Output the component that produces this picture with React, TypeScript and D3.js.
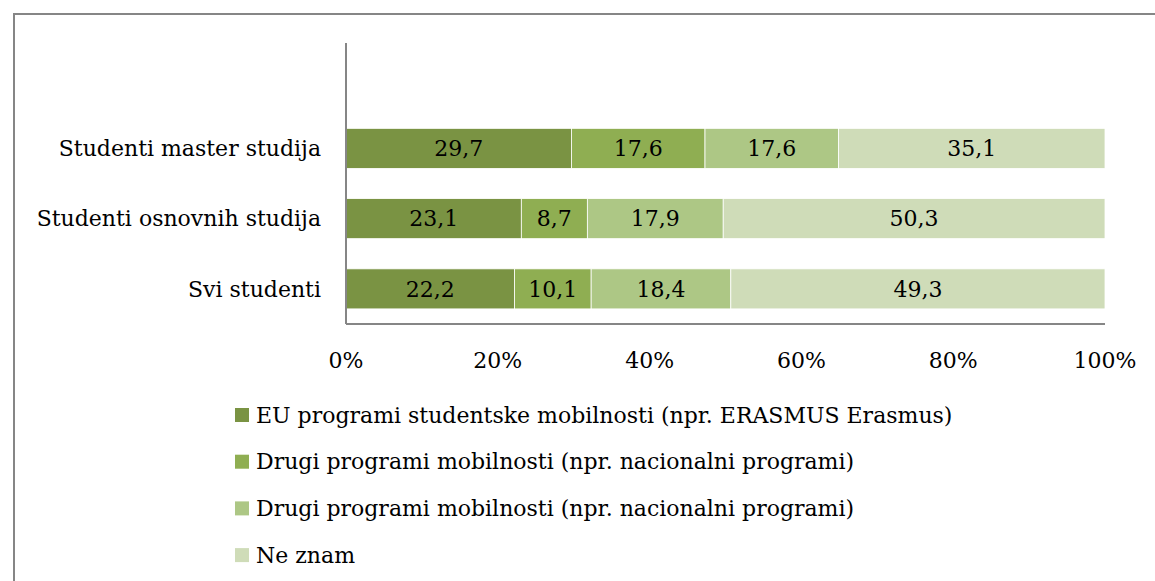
import * as d3 from 'd3';

const width = 1155;
const height = 581;

// categories, top to bottom; the first slot stays empty like the original
const categories = ['', 'Studenti master studija', 'Studenti osnovnih studija', 'Svi studenti'];
const seriesNames = [
  'EU programi studentske mobilnosti (npr. ERASMUS Erasmus)',
  'Drugi programi mobilnosti (npr. nacionalni programi)',
  'Drugi programi mobilnosti (npr. nacionalni programi)',
  'Ne znam',
];
const euValues = [29.7, 23.1, 22.2];
const drugiValues = [17.6, 8.7, 10.1];
const drugi2Values = [17.6, 17.9, 18.4];
const neZnamValues = [35.1, 50.3, 49.3];
const ticks = [0, 20, 40, 60, 80, 100];
const colors = ['#7a9343', '#8fae52', '#adc785', '#cfdcb8'];

const font = '"DejaVu Serif", serif';
const fontSize = 22;

const left = 346;
const right = 1105;
const top = 43;
const bottom = 324;

export default function App() {
  const rows = categories.slice(1).map((name, i) => ({
    name,
    values: [euValues[i], drugiValues[i], drugi2Values[i], neZnamValues[i]],
  }));
  const x = d3.scaleLinear([0, 100], [left, right]);
  const y = d3
    .scaleBand<string>()
    .domain(categories)
    .range([top, bottom])
    .paddingInner(0.43)
    .paddingOuter(0.215);
  const stack = d3.stack<number[]>().keys([0, 1, 2, 3] as any).value((d, k) => d[k as any]);
  const layers = stack(rows.map((r) => r.values));

  return (
    <svg
      width={width}
      height={height}
      style={{ position: 'absolute', left: 0, top: 0, background: '#fff' }}
      fontFamily={font}
    >
      <path d={`M14,${height + 5} V14 H${width + 5}`} fill="none" stroke="#868686" strokeWidth={2} />

      {layers.map((layer, si) =>
        layer.map((seg, ri) => {
          const cat = rows[ri].name;
          const x0 = x(seg[0]);
          const x1 = x(seg[1]);
          const yy = y(cat)!;
          return (
            <g key={`${si}-${ri}`}>
              <rect
                x={x0}
                y={yy}
                width={x1 - x0}
                height={y.bandwidth()}
                fill={colors[si]}
                stroke="#fff"
                strokeWidth={0.8}
              />
              <text
                x={(x0 + x1) / 2}
                y={yy + y.bandwidth() / 2}
                dy="0.35em"
                textAnchor="middle"
                fontSize={fontSize}
                fill="#000"
              >
                {String(rows[ri].values[si]).replace('.', ',')}
              </text>
            </g>
          );
        })
      )}

      <line x1={left} x2={left} y1={top} y2={bottom} stroke="#868686" strokeWidth={2} />
      <line x1={left} x2={right} y1={bottom} y2={bottom} stroke="#868686" strokeWidth={2} />

      {categories.slice(1).map((c) => (
        <text
          key={c}
          x={321}
          y={y(c)! + y.bandwidth() / 2}
          dy="0.35em"
          textAnchor="end"
          fontSize={fontSize}
        >
          {c}
        </text>
      ))}

      {ticks.map((t) => (
        <text key={t} x={x(t)} y={360} dy="0.35em" textAnchor="middle" fontSize={fontSize}>
          {t}%
        </text>
      ))}

      {seriesNames.map((s, i) => (
        <g key={i} transform={`translate(235,${415 + i * 46.7})`}>
          <rect x={0} y={-7} width={14} height={14} fill={colors[i]} />
          <text x={21} y={0} dy="0.35em" fontSize={fontSize}>
            {s}
          </text>
        </g>
      ))}
    </svg>
  );
}
